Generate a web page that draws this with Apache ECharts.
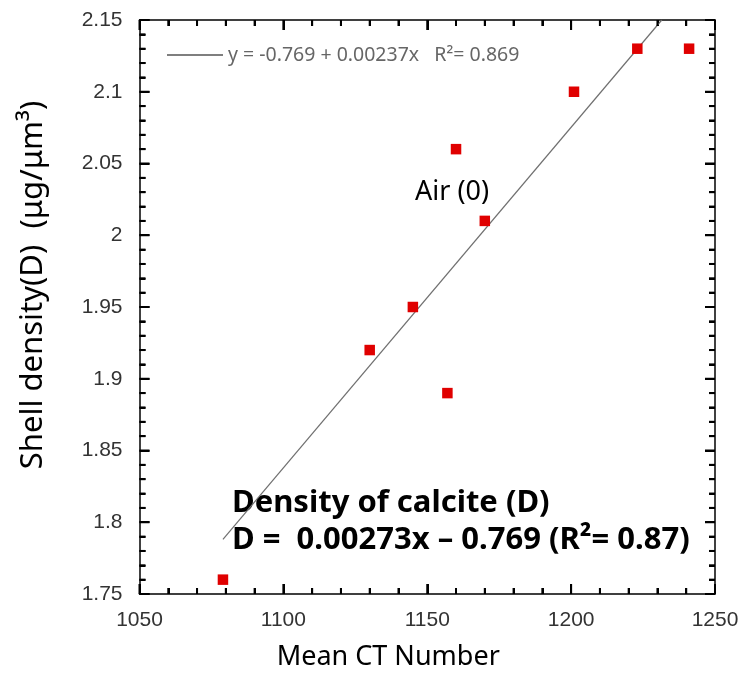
<!DOCTYPE html>
<html>
<head>
<meta charset="utf-8">
<script src="https://cdn.jsdelivr.net/npm/echarts@6/dist/echarts.min.js"></script>
<style>
html,body{margin:0;padding:0;background:#fff;}
#chart{width:742px;height:673px;}
</style>
</head>
<body>
<div id="chart"></div>
<script>
// Data
var ctNumber = [1079, 1130, 1145, 1157, 1160, 1170, 1201, 1223, 1241];
var shellDensity = [1.76, 1.92, 1.95, 1.89, 2.06, 2.01, 2.10, 2.13, 2.13];
// Fitted line end points (as drawn)
var fitX = [1079, 1231.5];
var fitY = [1.788, 2.15];
var fitLabel = 'y = -0.769 + 0.00237x   R\u00B2= 0.869';
var xTitle = 'Mean CT Number';
var yTitle = 'Shell density(D)  (\u03BCg/\u03BCm\u00B3)';
var annoAir = 'Air (0)';
var annoLine1 = 'Density of calcite (D)';
var annoLine2 = 'D =  0.00273x \u2013 0.769 (R\u00B2= 0.87)';
// Axis ranges
var xMin = 1050, xMax = 1250, xStep = 50, xMinorStep = 10;
var yMin = 1.75, yMax = 2.15, yStep = 0.05, yMinorStep = 0.01;

var scatterData = ctNumber.map(function (x, i) { return [x, shellDensity[i]]; });
var fitData = fitX.map(function (x, i) { return [x, fitY[i]]; });

// tick positions along each axis: [value, isMajor]
var xTicks = [], yTicks = [];
(function () {
  var nx = Math.round((xMax - xMin) / xMinorStep), perX = Math.round(xStep / xMinorStep);
  for (var i = 0; i <= nx; i++) xTicks.push([xMin + i * xMinorStep, i % perX === 0 ? 1 : 0]);
  var ny = Math.round((yMax - yMin) / yMinorStep), perY = Math.round(yStep / yMinorStep);
  for (var j = 0; j <= ny; j++) yTicks.push([Math.round((yMin + j * yMinorStep) * 1000) / 1000, j % perY === 0 ? 1 : 0]);
})();

var MAJOR = 10, MINOR = 6, TW = 2;

var chart = echarts.init(document.getElementById('chart'), null, {renderer: 'canvas'});

function axisCommon(extra) {
  var base = {
    axisLine: {show: true, onZero: false, lineStyle: {color: '#000', width: 1.5}},
    axisTick: {show: true, inside: true, length: MAJOR, lineStyle: {color: '#000', width: TW}},
    minorTick: {show: true, splitNumber: 5, length: MINOR, lineStyle: {color: '#000', width: TW}},
    splitLine: {show: false}
  };
  for (var k in extra) base[k] = extra[k];
  return base;
}
function plainNum(v) { return String(Math.round(v * 1000) / 1000); }

// tick marks drawn with a custom series through the axes' coordinate system
function tickRender(side) {
  return function (params, api) {
    var v = api.value(0);
    var len = api.value(1) ? MAJOR : MINOR;
    var p, shape;
    if (side === 'bottom') { p = api.coord([v, yMin]); shape = {x1: p[0], y1: p[1], x2: p[0], y2: p[1] - len}; }
    else if (side === 'top') { p = api.coord([v, yMax]); shape = {x1: p[0], y1: p[1], x2: p[0], y2: p[1] + len}; }
    else if (side === 'left') { p = api.coord([xMin, v]); shape = {x1: p[0], y1: p[1], x2: p[0] + len, y2: p[1]}; }
    else { p = api.coord([xMax, v]); shape = {x1: p[0], y1: p[1], x2: p[0] - len, y2: p[1]}; }
    return {type: 'line', shape: shape, style: {stroke: '#000', lineWidth: TW}, z2: 100};
  };
}
var tickSeries = ['bottom', 'top', 'left', 'right'].map(function (side) {
  var horiz = (side === 'bottom' || side === 'top');
  return {
    name: 'tick-' + side,
    type: 'custom',
    coordinateSystem: 'cartesian2d',
    xAxisIndex: 0, yAxisIndex: 0,
    data: horiz ? xTicks : yTicks,
    encode: {x: -1, y: -1},
    renderItem: tickRender(side),
    silent: true,
    clip: false,
    z: 10
  };
});

var option = {
  backgroundColor: '#fff',
  animation: false,
  grid: {left: 139.5, right: 27, top: 20, bottom: 79, containLabel: false, outerBoundsMode: 'none'},
  legend: {
    show: true,
    data: [{name: fitLabel, icon: 'rect'}],
    left: 162,
    top: 40,
    itemWidth: 56,
    itemHeight: 1.3,
    itemGap: 5,
    itemStyle: {color: '#555'},
    textStyle: {color: '#666', fontSize: 19.5, fontFamily: 'Noto Sans'},
    selectedMode: false
  },
  xAxis: [
    axisCommon({
      type: 'value', min: xMin, max: xMax, interval: xStep, position: 'bottom',
      axisLabel: {show: true, margin: 16, color: '#333', fontSize: 21, fontFamily: 'Liberation Sans', formatter: plainNum},
      name: xTitle, nameLocation: 'middle', nameGap: 50,
      nameTextStyle: {color: '#000', fontSize: 27, fontFamily: 'Noto Sans', padding: [0, 78, 0, 0]}
    }),
    axisCommon({
      type: 'value', min: xMin, max: xMax, interval: xStep, position: 'top',
      axisLabel: {show: false}
    })
  ],
  yAxis: [
    axisCommon({
      type: 'value', min: yMin, max: yMax, interval: yStep, position: 'left',
      axisLabel: {show: true, margin: 17, color: '#333', fontSize: 21, fontFamily: 'Liberation Sans', formatter: plainNum},
      name: yTitle, nameLocation: 'middle', nameGap: 91, nameRotate: 90,
      nameTextStyle: {color: '#000', fontSize: 31, fontFamily: 'Noto Sans', padding: [0, 0, 0, 44]}
    }),
    axisCommon({
      type: 'value', min: yMin, max: yMax, interval: yStep, position: 'right',
      axisLabel: {show: false}
    })
  ],
  series: tickSeries.concat([
    {
      name: fitLabel,
      type: 'line',
      xAxisIndex: 0, yAxisIndex: 0,
      data: fitData,
      symbol: 'none',
      showSymbol: false,
      lineStyle: {color: '#707070', width: 1.2},
      itemStyle: {color: '#707070'},
      silent: true,
      z: 2
    },
    {
      name: 'points',
      type: 'scatter',
      xAxisIndex: 0, yAxisIndex: 0,
      data: scatterData,
      symbol: 'rect',
      symbolSize: 10.5,
      itemStyle: {color: '#e00000', opacity: 1},
      z: 3
    }
  ]),
  graphic: [
    {
      type: 'text', x: 415, y: 192,
      style: {text: annoAir, fill: '#000', fontSize: 27, fontFamily: 'Noto Sans', align: 'left', verticalAlign: 'middle'}
    },
    {
      type: 'text', x: 232, y: 503,
      style: {text: annoLine1, fill: '#000', fontSize: 31, fontWeight: 'bold', fontFamily: 'Noto Sans', align: 'left', verticalAlign: 'middle'}
    },
    {
      type: 'text', x: 232, y: 540,
      style: {text: annoLine2, fill: '#000', fontSize: 31, fontWeight: 'bold', fontFamily: 'Noto Sans', align: 'left', verticalAlign: 'middle'}
    }
  ]
};
chart.setOption(option);
</script>
</body>
</html>
